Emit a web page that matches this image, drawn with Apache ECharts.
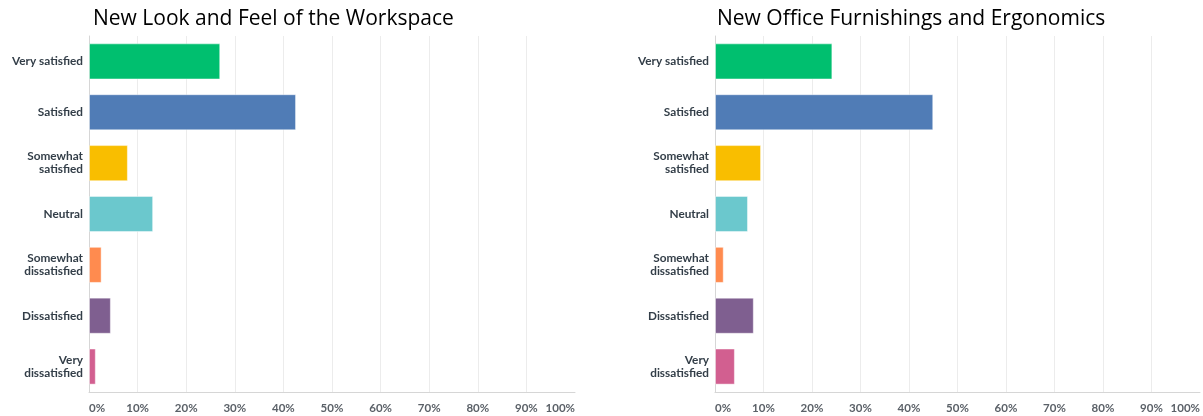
<!DOCTYPE html>
<html>
<head>
<meta charset="utf-8">
<script src="https://cdn.jsdelivr.net/npm/echarts@6/dist/echarts.min.js"></script>
<style>
    html, body { margin: 0; padding: 0; background: #fff; }
    #chart { width: 1203px; height: 416px; }
</style>
</head>
<body>
<div id="chart"></div>
<script>
    // answer categories, top to bottom
    const categories = ['Very satisfied', 'Satisfied', 'Somewhat\nsatisfied', 'Neutral',
        'Somewhat\ndissatisfied', 'Dissatisfied', 'Very\ndissatisfied'];
    // percent of respondents
    const lookAndFeel = [27, 42.6, 8, 13.2, 2.6, 4.5, 1.4];
    const furnishings = [24.2, 45, 9.5, 6.8, 1.8, 8, 4.1];
    const titles = ['New Look and Feel of the Workspace', 'New Office Furnishings and Ergonomics'];
    const barColors = ['#00bf6f', '#507cb6', '#f9be00', '#6bc8cd', '#ff8b4f', '#7f5f90', '#d25f90'];

    const labelFont = 'Lato, "Open Sans", sans-serif';

    function makeX(gridIndex) {
        return {
            gridIndex: gridIndex,
            type: 'value',
            min: 0,
            max: 100,
            interval: 10,
            axisLine: { show: true, lineStyle: { color: '#d6d6d6', width: 1 } },
            axisTick: { show: false },
            axisLabel: {
                formatter: '{value}%',
                color: '#5b6168',
                fontFamily: labelFont,
                fontWeight: 'bold',
                fontSize: 11.5,
                margin: 10,
                alignMinLabel: 'left',
                alignMaxLabel: 'right'
            },
            splitLine: {
                show: true,
                showMinLine: false,
                showMaxLine: false,
                lineStyle: { color: '#ececec', width: 1 }
            }
        };
    }

    function makeY(gridIndex) {
        return {
            gridIndex: gridIndex,
            type: 'category',
            inverse: true,
            data: categories,
            axisLine: { show: true, lineStyle: { color: '#d6d6d6', width: 1 } },
            axisTick: { show: false },
            axisLabel: {
                color: '#333e48',
                fontFamily: labelFont,
                fontWeight: 'bold',
                fontSize: 11.8,
                lineHeight: 13,
                margin: 6,
                align: 'right'
            }
        };
    }

    function makeSeries(idx, values) {
        return {
            type: 'bar',
            xAxisIndex: idx,
            yAxisIndex: idx,
            data: values,
            barCategoryGap: '29%',
            silent: true,
            itemStyle: {
                color: function (p) { return barColors[p.dataIndex]; },
                borderColor: 'rgba(255,255,255,0.45)',
                borderWidth: 1
            }
        };
    }

    const titleStyle = { fontFamily: '"Open Sans", sans-serif', fontWeight: 'normal', fontSize: 21, color: '#000' };

    const myChart = echarts.init(document.getElementById('chart'));
    myChart.setOption({
        animation: false,
        title: [
            { text: titles[0], left: 88, top: 4, textStyle: titleStyle },
            { text: titles[1], left: 712, top: 4, textStyle: titleStyle }
        ],
        grid: [
            { left: 89, width: 486, top: 36, height: 356 },
            { left: 715, width: 485, top: 36, height: 356 }
        ],
        xAxis: [makeX(0), makeX(1)],
        yAxis: [makeY(0), makeY(1)],
        series: [makeSeries(0, lookAndFeel), makeSeries(1, furnishings)]
    });
</script>
</body>
</html>
